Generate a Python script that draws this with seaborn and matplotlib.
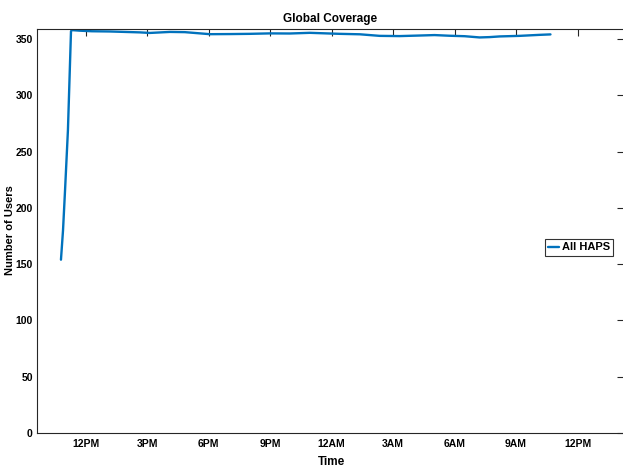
import matplotlib
matplotlib.use("Agg")
import matplotlib.pyplot as plt
import seaborn as sns
import pandas as pd

# Time in hours since midnight of day 1
hours = [10.78, 10.88, 10.98, 11.12, 11.27, 11.32, 11.71, 12.29, 13.17, 14.63, 15.12,
         16.10, 16.83, 18.05, 19.02, 20.00, 20.98, 21.95, 22.93, 24.39, 25.37,
         26.34, 27.32, 28.29, 29.02, 29.76, 30.49, 31.22, 31.71, 32.20, 33.17,
         34.15, 34.68]
users = [154, 180, 216, 269, 357, 358, 357.5, 357, 356.8, 356, 355.5,
         356.4, 356.2, 354.4, 354.5, 354.7, 355.1, 355.0, 355.6, 354.7, 354.3,
         352.9, 352.7, 353.2, 353.6, 353.0, 352.6, 351.5, 351.8, 352.4, 352.9,
         353.8, 354.2]
xtick_pos = [12, 15, 18, 21, 24, 27, 30, 33, 36]
xtick_labels = ["12PM", "3PM", "6PM", "9PM", "12AM", "3AM", "6AM", "9AM", "12PM"]
ytick_pos = [0, 50, 100, 150, 200, 250, 300, 350]
series_name = "All HAPS"

sns.set_style("white")
fam = ["Liberation Sans Narrow", "Liberation Sans", "DejaVu Sans"]
plt.rcParams["font.family"] = fam
plt.rcParams["font.weight"] = "bold"
plt.rcParams["text.color"] = "black"
plt.rcParams["axes.labelcolor"] = "black"
plt.rcParams["xtick.color"] = "black"
plt.rcParams["ytick.color"] = "black"

df = pd.DataFrame({"Time": hours, "Users": users, "Series": series_name})

W, H = 623, 467
fig = plt.figure(figsize=(W / 100, H / 100), dpi=100)
left, right, top, bottom = 37, 624, 29, 433
aw, ah = right - left, bottom - top
ax = fig.add_axes([left / W, 1 - bottom / H, aw / W, ah / H])

sns.lineplot(data=df, x="Time", y="Users", hue="Series", palette=["#0072BD"],
             linewidth=1.7, ax=ax, legend=True)

ax.set_xlim(9.61, 38.27)
ax.set_ylim(0, 359)
ax.set_xticks(xtick_pos)
ax.set_xticklabels(xtick_labels)
ax.set_yticks(ytick_pos)
ax.tick_params(direction="in", length=5, width=0.8, color="#262626",
               labelcolor="black", top=True, right=True, labelsize=7.5, pad=4)
ax.tick_params(axis="y", pad=3)
for lab in ax.get_xticklabels() + ax.get_yticklabels():
    lab.set_fontweight("bold")
for s in ax.spines.values():
    s.set_color("#262626")
    s.set_linewidth(0.8)
    s.set_visible(True)

ax.set_title("Global Coverage", fontsize=8.5, fontweight="bold", pad=5, color="black")
ax.set_xlabel("Time", fontsize=8.5, fontweight="bold", color="black")
ax.set_ylabel("Number of Users", fontsize=8, fontweight="bold", color="black")
ax.yaxis.set_label_coords((10 - left) / aw, (bottom - 230) / ah)
ax.yaxis.label.set_verticalalignment("center")
ax.yaxis.label.set_horizontalalignment("center")
ax.xaxis.set_label_coords((332 - left) / aw, (bottom - 462) / ah)
ax.xaxis.label.set_verticalalignment("center")

leg = ax.legend(loc="center right", bbox_to_anchor=(1 - 11 / aw, (bottom - 247.5) / ah),
                frameon=True, fancybox=False, edgecolor="black", fontsize=8,
                handlelength=1.0, handletextpad=0.2, borderpad=0.3, borderaxespad=0)
leg.get_frame().set_linewidth(0.8)
for t in leg.get_texts():
    t.set_fontweight("bold")
    t.set_color("black")

fig.savefig("out.png", dpi=100)
